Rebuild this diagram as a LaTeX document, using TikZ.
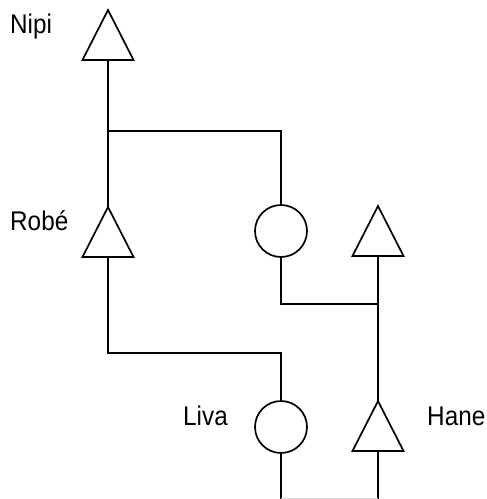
\documentclass[tikz,border=0pt]{standalone}
\usepackage{fontspec}
\setmainfont[FakeStretch=0.9]{Liberation Sans}
\begin{document}
\begin{tikzpicture}[x=1bp,y=-1bp,
  ln/.style={line width=1.7bp,black},
  person/.style={circle,draw,line width=1.7bp,minimum size=52bp,inner sep=0pt},
  lbl/.style={font=\fontsize{27bp}{30bp}\selectfont,inner sep=0pt}]
\useasboundingbox (0,0) rectangle (487,499);
% triangles (males)
\newcommand{\tri}[2]{\draw[ln,line join=miter] (#1,#2) -- (#1+25.5,#2+50) -- (#1-25.5,#2+50) -- cycle;}
\tri{108}{10}
\tri{108}{207}
\tri{378}{206}
\tri{378}{401}
\coordinate (nipiT) at (108,10);  \coordinate (nipiB) at (108,60);
\coordinate (robeT) at (108,207); \coordinate (robeB) at (108,257);
\coordinate (hane1T) at (378,206); \coordinate (hane1B) at (378,256);
\coordinate (haneT) at (378,401); \coordinate (haneB) at (378,451);
% circles (females)
\node[person] (c1) at (281,231) {};
\node[person] (liva) at (281,427) {};
% labels
\node[lbl,anchor=west] (tn) at (10,27) {Nipi};
\node[lbl,anchor=west] (tr) at (10,221) {Robé};
\node[lbl,anchor=west] (tl) at (183,416) {Liva};
\node[lbl,anchor=west] (th) at (427,416) {Hane};
% connectors
\coordinate (j1) at (108,131);
\coordinate (j2) at (378,304);
\coordinate (j3) at (108,353);
\coordinate (b1) at (281,499);
\coordinate (b2) at (378,499);
\draw[ln] (nipiB) -- (robeT);
\draw[ln] (j1) -| (c1.north);
\draw[ln] (c1.south) |- (j2);
\draw[ln] (hane1B) -- (haneT);
\draw[ln] (robeB) |- (j3) -| (liva.north);
\draw[ln] (liva.south) -- (b1);
\draw[ln] (haneB) -- (b2);
\draw[gray!30,line width=1bp] (281,498) -- (378,498);
\end{tikzpicture}
\end{document}
